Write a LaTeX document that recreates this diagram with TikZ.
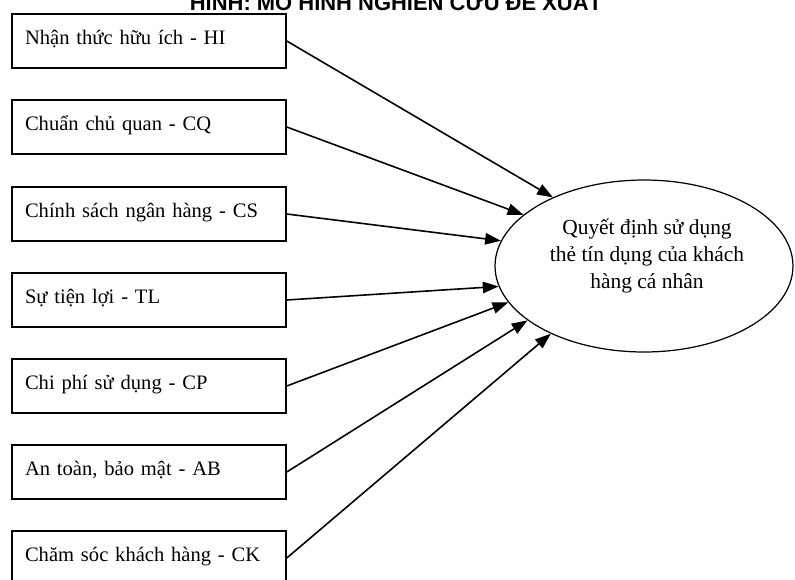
\documentclass[tikz,border=0pt]{standalone}
\usepackage{fontspec}
\setmainfont{Liberation Serif}
\newfontfamily\titlefont{Liberation Sans}
\usetikzlibrary{shapes.geometric,arrows.meta,calc}
\tikzset{
mybox/.style={
  draw,
  line width=0.9pt,
  rectangle,
  inner xsep=0.26cm,
  inner ysep=0pt,
  text width=4.96cm,
  text height=0.6cm,
  text depth=0.48cm,
  align=left,
  font=\fontsize{11.7}{14}\selectfont
  },
myell/.style={
  draw,
  ellipse,
  line width=0.7pt,
  inner sep=0pt,
  minimum width=5.96cm,
  minimum height=3.44cm
  },
myarr/.style={
  line width=0.9pt,
  -{Triangle[length=9pt,width=6.5pt]}
  }
}

\begin{document}
\begin{tikzpicture}[x=0.02cm, y=-0.02cm]
  \useasboundingbox (0,0) rectangle (795,579);

  \node[anchor=base, font=\titlefont\bfseries\fontsize{12.5}{15}\selectfont] (title) at (396,10) {HÌNH: MÔ HÌNH NGHIÊN CỨU ĐỀ XUẤT};

  \node[mybox] (hi) at (149,41)  {Nhận thức hữu ích - HI};
  \node[mybox] (cq) at (149,127) {Chuẩn chủ quan - CQ};
  \node[mybox] (cs) at (149,214) {Chính sách ngân hàng - CS};
  \node[mybox] (tl) at (149,300) {Sự tiện lợi - TL};
  \node[mybox] (cp) at (149,386) {Chi phí sử dụng - CP};
  \node[mybox] (ab) at (149,472) {An toàn, bảo mật - AB};
  \node[mybox] (ck) at (149,558) {Chăm sóc khách hàng - CK};

  \node[myell] (dec) at (644,266) {};
  \node[align=center, font=\fontsize{12.2}{15.4}\selectfont] (dec-text) at (647,256)
    {Quyết định sử dụng\\ thẻ tín dụng của khách\\ hàng cá nhân};

  \draw[myarr] (hi.east) -- (dec.143.6);
  \draw[myarr] (cq.east) -- (dec.157.3);
  \draw[myarr] (cs.east) -- (dec.170.5);
  \draw[myarr] (tl.east) -- (dec.188.1);
  \draw[myarr] (cp.east) -- (dec.195.5);
  \draw[myarr] (ab.east) -- (dec.205.8);
  \draw[myarr] (ck.east) -- (dec.216.5);

\end{tikzpicture}
\end{document}
